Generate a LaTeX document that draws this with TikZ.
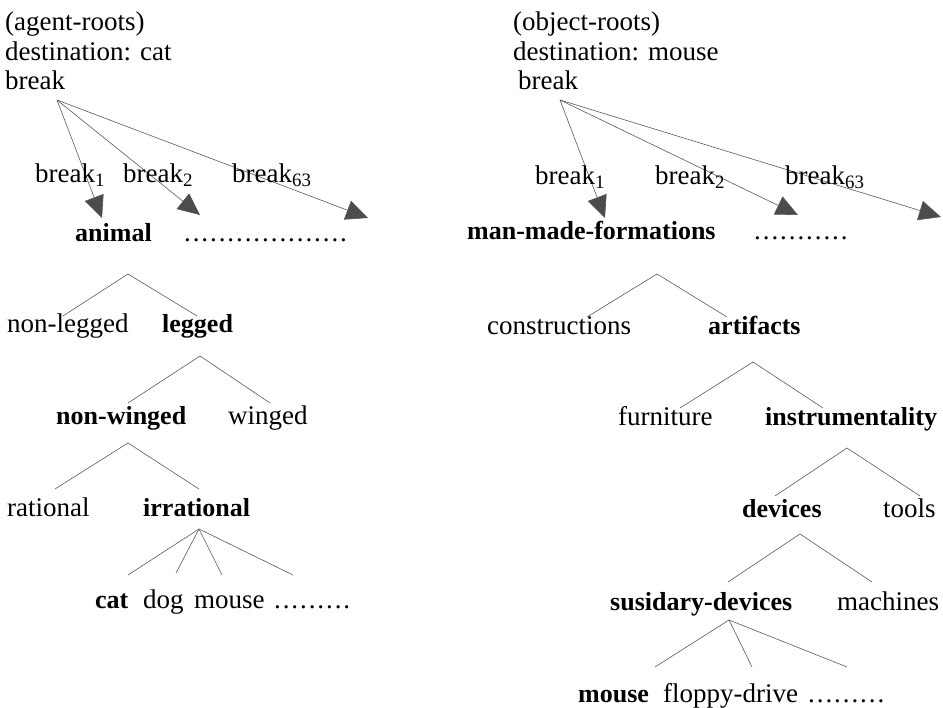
\documentclass[tikz,border=0pt]{standalone}
\usepackage{fontspec}
\setmainfont{Liberation Serif}
\usetikzlibrary{arrows.meta}
\newcount\dotcnt
\newcommand{\dotrun}[1]{\dotcnt=0 \loop\hbox to 8.67pt{\hss.\hss}\advance\dotcnt by 1 \ifnum\dotcnt<#1\repeat}
\begin{document}
\begin{tikzpicture}[x=1pt,y=-1pt,
  txt/.style={anchor=base west, inner sep=0pt, font=\fontsize{27}{29}\selectfont},
  bld/.style={anchor=base west, inner sep=0pt, font=\fontsize{26}{29}\selectfont\bfseries},
  branch/.style={draw=black!65, line width=0.6pt},
  arr/.style={draw=black!65, line width=0.6pt, -{Triangle[length=22pt,width=20pt,fill=black!70]}}]
\useasboundingbox (0,0) rectangle (943,708);

% ---------------- left: agent roots ----------------
\node[txt] (agroots) at (5,31) {(agent-roots)};
\node[txt] (destL) at (5,61) {destination: cat};
\node[txt] (brkL) at (5,90) {break};
\coordinate (oL) at (57,100);
\coordinate (tL1) at (102,218);
\coordinate (tL2) at (200,215);
\coordinate (tL3) at (368,218);
\draw[arr] (oL) -- (tL1);
\draw[arr] (oL) -- (tL2);
\draw[arr] (oL) -- (tL3);
\node[txt] (bL1) at (35,183) {break\textsubscript{1}};
\node[txt] (bL2) at (123,183) {break\textsubscript{2}};
\node[txt] (bL3) at (232,183) {break\textsubscript{63}};

\node[bld] (animal) at (75,242) {animal};
\node[txt] (dotsL1) at (183,242) {\dotrun{19}};

\coordinate (aL1) at (128,274);
\coordinate (eL1a) at (63,316);
\coordinate (eL1b) at (197,316);
\draw[branch] (eL1a) -- (aL1) -- (eL1b);
\node[txt] (nonlegged) at (7,333) {non-legged};
\node[bld] (legged) at (162,333) {legged};

\coordinate (aL2) at (200,356);
\coordinate (eL2a) at (128,403);
\coordinate (eL2b) at (270,403);
\draw[branch] (eL2a) -- (aL2) -- (eL2b);
\node[bld] (nonwinged) at (56,425) {non-winged};
\node[txt] (winged) at (228,425) {winged};

\coordinate (aL3) at (128,443);
\coordinate (eL3a) at (55,489);
\coordinate (eL3b) at (199,489);
\draw[branch] (eL3a) -- (aL3) -- (eL3b);
\node[txt] (rational) at (7,517) {rational};
\node[bld] (irrational) at (143,517) {irrational};

\coordinate (aL4) at (199,529);
\coordinate (eL4a) at (128,575);
\coordinate (eL4b) at (176,573);
\coordinate (eL4c) at (222,575);
\coordinate (eL4d) at (293,575);
\draw[branch] (aL4) -- (eL4a);
\draw[branch] (aL4) -- (eL4b);
\draw[branch] (aL4) -- (eL4c);
\draw[branch] (aL4) -- (eL4d);
\node[bld] (cat) at (95,608) {cat};
\node[txt] (dog) at (143,608) {dog};
\node[txt] (mouseL) at (194,608) {mouse};
\node[txt] (dotsL2) at (273,608) {\dotrun{9}};

% ---------------- right: object roots ----------------
\node[txt] (obroots) at (513,31) {(object-roots)};
\node[txt] (destR) at (513,61) {destination: mouse};
\node[txt] (brkR) at (518,90) {break};
\coordinate (oR) at (560,100);
\coordinate (tR1) at (605,218);
\coordinate (tR2) at (798,215);
\coordinate (tR3) at (941,217);
\draw[arr] (oR) -- (tR1);
\draw[arr] (oR) -- (tR2);
\draw[arr] (oR) -- (tR3);
\node[txt] (bR1) at (535,185) {break\textsubscript{1}};
\node[txt] (bR2) at (655,185) {break\textsubscript{2}};
\node[txt] (bR3) at (785,185) {break\textsubscript{63}};

\node[bld] (mmf) at (467,240) {man-made-formations};
\node[txt] (dotsR1) at (753,240) {\dotrun{11}};

\coordinate (aR1) at (657,274);
\coordinate (eR1a) at (587,317);
\coordinate (eR1b) at (727,317);
\draw[branch] (eR1a) -- (aR1) -- (eR1b);
\node[txt] (constructions) at (487,335) {constructions};
\node[bld] (artifacts) at (708,335) {artifacts};

\coordinate (aR2) at (753,362);
\coordinate (eR2a) at (680,408);
\coordinate (eR2b) at (823,408);
\draw[branch] (eR2a) -- (aR2) -- (eR2b);
\node[txt] (furniture) at (618,426) {furniture};
\node[bld] (instr) at (765,426) {instrumentality};

\coordinate (aR3) at (847,448);
\coordinate (eR3a) at (775,496);
\coordinate (eR3b) at (920,496);
\draw[branch] (eR3a) -- (aR3) -- (eR3b);
\node[bld] (devices) at (742,518) {devices};
\node[txt] (tools) at (883,518) {tools};

\coordinate (aR4) at (800,534);
\coordinate (eR4a) at (728,582);
\coordinate (eR4b) at (872,582);
\draw[branch] (eR4a) -- (aR4) -- (eR4b);
\node[bld] (susid) at (610,610) {susidary-devices};
\node[txt] (machines) at (837,610) {machines};

\coordinate (aR5) at (729,620);
\coordinate (eR5a) at (655,667);
\coordinate (eR5b) at (752,667);
\coordinate (eR5c) at (847,667);
\draw[branch] (aR5) -- (eR5a);
\draw[branch] (aR5) -- (eR5b);
\draw[branch] (aR5) -- (eR5c);
\node[bld] (mouseR) at (578,702) {mouse};
\node[txt] (floppy) at (663,702) {floppy-drive};
\node[txt] (dotsR2) at (807,702) {\dotrun{9}};
\end{tikzpicture}
\end{document}
